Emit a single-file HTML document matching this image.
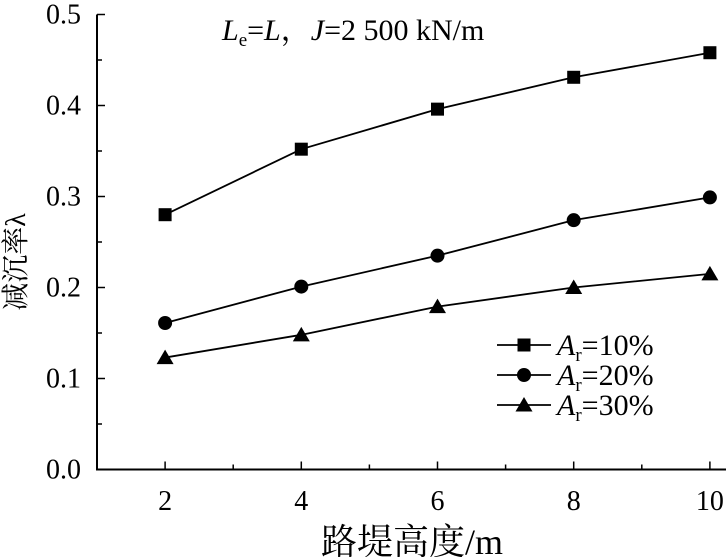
<!DOCTYPE html>
<html><head><meta charset="utf-8">
<style>
html,body{margin:0;padding:0;background:#fff;}
svg{display:block;font-family:"Liberation Serif","Noto Serif CJK SC",serif;}
</style></head>
<body>
<svg id="chart" width="727" height="557" viewBox="0 0 727 557" xmlns="http://www.w3.org/2000/svg"></svg>
<script>
const xCategories = [2, 4, 6, 8, 10];
const series10 = [0.280, 0.352, 0.396, 0.431, 0.458];
const series20 = [0.161, 0.201, 0.235, 0.274, 0.299];
const series30 = [0.123, 0.148, 0.179, 0.200, 0.215];
const xTickLabels = ["2", "4", "6", "8", "10"];
const yTickLabels = ["0.0", "0.1", "0.2", "0.3", "0.4", "0.5"];
const yTickValues = [0, 0.1, 0.2, 0.3, 0.4, 0.5];

const NS = "http://www.w3.org/2000/svg";
const svg = document.getElementById('chart');
const X0 = 97, XPX = 68.1;
const Y0 = 469.5, YPX = 910;
function sx(v){ return X0 + (v - 1) * XPX; }
function sy(v){ return Y0 - v * YPX; }
function mk(tag, attrs, parent){
  const e = document.createElementNS(NS, tag);
  for (const k in attrs) e.setAttribute(k, attrs[k]);
  (parent || svg).appendChild(e);
  return e;
}

const axes = mk('g', {});


mk('line', {x1:X0, y1:sy(0.5), x2:X0, y2:Y0+1, stroke:'#000', 'stroke-width':2}, axes);
mk('line', {x1:X0-1, y1:Y0, x2:726, y2:Y0, stroke:'#000', 'stroke-width':2}, axes);

yTickValues.forEach((v, i) => {
  mk('line', {x1:X0, y1:sy(v), x2:X0+8, y2:sy(v), stroke:'#000', 'stroke-width':1.5}, axes);
  if (i < yTickValues.length - 1) {
    const m = v + 0.05;
    mk('line', {x1:X0, y1:sy(m), x2:X0+5, y2:sy(m), stroke:'#000', 'stroke-width':1.5}, axes);
  }
  const t = mk('text', {x:81, y:sy(v)+9, 'text-anchor':'end', 'font-size':28}, axes);
  
  
  t.textContent = yTickLabels[i];
});
xCategories.forEach((v, i) => {
  mk('line', {x1:sx(v), y1:Y0, x2:sx(v), y2:Y0-8, stroke:'#000', 'stroke-width':1.5}, axes);
  const t = mk('text', {x:sx(v), y:510, 'text-anchor':'middle', 'font-size':28}, axes);
  
  
  t.textContent = xTickLabels[i];
});
[3,5,7,9,11].forEach(v => {
  if (sx(v) < 726) mk('line', {x1:sx(v), y1:Y0, x2:sx(v), y2:Y0-5, stroke:'#000', 'stroke-width':1.5}, axes);
});

const xt = mk('text', {x:412, y:554, 'text-anchor':'middle', 'font-size':36});


xt.textContent = '路堤高度/m';
const yt = mk('text', {x:0, y:0, 'text-anchor':'middle', 'font-size':28, transform:'translate(25,262) rotate(-90)'});


yt.textContent = '减沉率λ';

const an = mk('text', {x:222, y:40, 'font-size':30});


an.innerHTML = '<tspan font-style="italic">L</tspan><tspan font-size="19" dy="6">e</tspan><tspan dy="-6">=</tspan><tspan font-style="italic">L</tspan>，<tspan font-style="italic">J</tspan>=2 500 kN/m';

function marker(type, x, y, parent){
  if (type === 'square') return mk('rect', {x:x-6.5, y:y-6.5, width:13, height:13, fill:'#000'}, parent);
  if (type === 'circle') return mk('circle', {cx:x, cy:y, r:7, fill:'#000'}, parent);
  return mk('polygon', {points:`${x},${y-8} ${x-8.5},${y+6.5} ${x+8.5},${y+6.5}`, fill:'#000'}, parent);
}
const allSeries = [
  {vals:series10, m:'square', name:'series-ar-10'},
  {vals:series20, m:'circle', name:'series-ar-20'},
  {vals:series30, m:'triangle', name:'series-ar-30'}
];
allSeries.forEach(s => {
  const g = mk('g', {});
  
  
  const pts = s.vals.map((v, i) => sx(xCategories[i]) + ',' + sy(v)).join(' ');
  mk('polyline', {points:pts, fill:'none', stroke:'#000', 'stroke-width':1.8}, g);
  s.vals.forEach((v, i) => {
    const p = marker(s.m, sx(xCategories[i]), sy(v), g);
    
    
  });
});

const lg = mk('g', {});


const legendLabels = ['10%', '20%', '30%'];
allSeries.forEach((s, i) => {
  const y = 345 + i * 30;
  const e = mk('g', {}, lg);
  
  
  mk('line', {x1:497, y1:y, x2:551, y2:y, stroke:'#000', 'stroke-width':1.8}, e);
  marker(s.m, 524, y, e);
  const t = mk('text', {x:557, y:y+10, 'font-size':30}, e);
  t.innerHTML = '<tspan font-style="italic">A</tspan><tspan font-size="19" dy="6">r</tspan><tspan dy="-6">=' + legendLabels[i] + '</tspan>';
});
</script>
</body></html>
